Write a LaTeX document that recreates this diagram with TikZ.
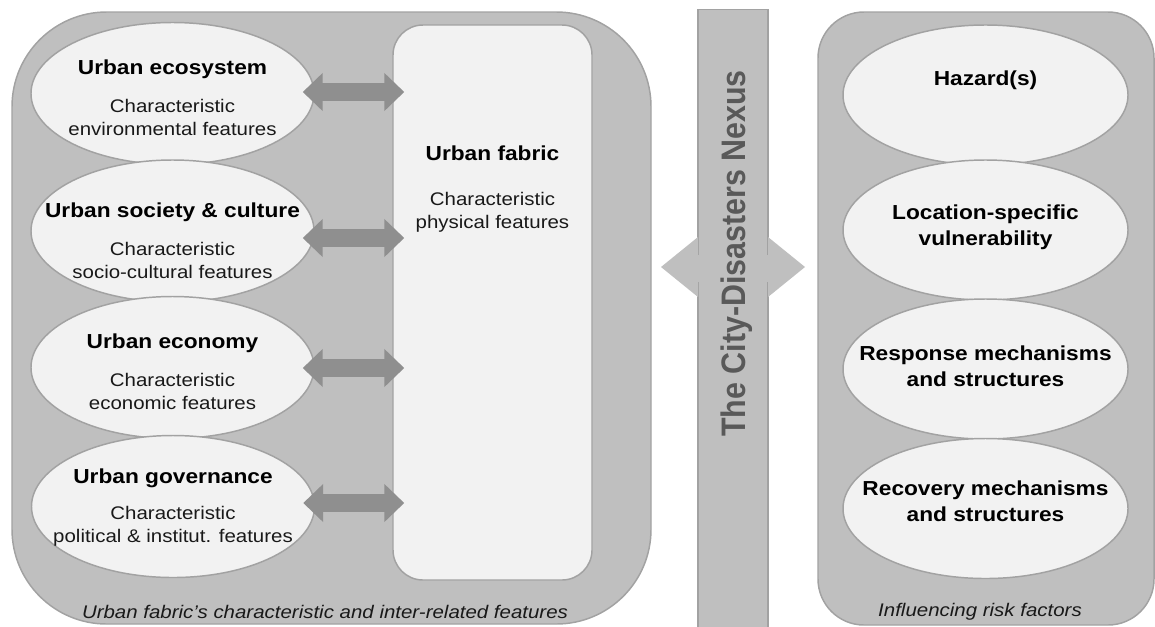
\documentclass[tikz,border=0pt]{standalone}
\usepackage{fontspec}
\setmainfont[FakeStretch=1.12]{Liberation Sans}
\newfontfamily\nexusfont[FakeStretch=0.894]{Liberation Sans}
\usetikzlibrary{shapes.geometric,arrows.meta,calc}
\definecolor{panelfill}{RGB}{191,191,191}
\definecolor{panelline}{RGB}{162,162,162}
\definecolor{lightfill}{RGB}{242,242,242}
\definecolor{arrowgray}{RGB}{143,143,143}
\definecolor{nexustext}{RGB}{89,89,89}
\definecolor{textdark}{RGB}{25,25,25}
\begin{document}
\begin{tikzpicture}[x=0.75pt,y=-0.75pt,
  panel/.style={rectangle, draw=panelline, fill=panelfill, line width=1.1pt, inner sep=0pt},
  oval/.style={ellipse, draw=panelline, fill=lightfill, line width=1.1pt, inner sep=0pt, minimum width=212.25pt, minimum height=106.5pt},
  ttl/.style={font=\fontsize{15.2}{19.5}\selectfont\bfseries, text=black, align=center, inner sep=0pt},
  sub/.style={font=\fontsize{13.7}{17.25}\selectfont, text=textdark, align=center, inner sep=0pt},
  capt/.style={font=\fontsize{13.7}{17.25}\selectfont\itshape, text=textdark, inner sep=0pt},
  bigarrow/.style={draw=arrowgray, line width=13.5pt,
    {Triangle[width=27.75pt,length=15pt]}-{Triangle[width=27.75pt,length=15pt]},
    shorten <=-9pt, shorten >=-9pt}
]
\useasboundingbox (0,0) rectangle (1155,626);

% panels
\node[panel, rounded corners=71pt, minimum width=479.25pt, minimum height=459pt] (left) at (331.5,318) {};
\node[panel, rounded corners=34.5pt, minimum width=252pt, minimum height=459.75pt] (right) at (986,318.5) {};
\node[panel, fill=lightfill, rounded corners=22.5pt, minimum width=149.25pt, minimum height=416.25pt] (fab) at (492.5,302.5) {};

% fabric text
\node[ttl] (fabt) at (492.5,153) {Urban fabric};
\node[sub] (fabs) at (492.5,212.5) {Characteristic\\physical features};

% left ellipses
\node[oval] (e1) at (172.5,93.5) {};
\node[oval] (e2) at (172.5,231) {};
\node[oval] (e3) at (172.5,367.5) {};
\node[oval] (e4) at (173,506.5) {};

\node[ttl] (t1) at ($(e1)+(0,-24)$) {Urban ecosystem};
\node[sub] (s1) at ($(e1)+(0,24)$) {Characteristic\\environmental features};
\node[ttl] (t2) at ($(e2)+(0,-19)$) {Urban society \& culture};
\node[sub] (s2) at ($(e2)+(0,29)$) {Characteristic\\socio-cultural features};
\node[ttl] (t3) at ($(e3)+(0,-24)$) {Urban economy};
\node[sub] (s3) at ($(e3)+(0,23.5)$) {Characteristic\\economic features};
\node[ttl] (t4) at ($(e4)+(0,-28)$) {Urban governance};
\node[sub] (s4) at ($(e4)+(0,19.5)$) {Characteristic\\political \& institut. features};

% right ellipses
\node[oval, minimum width=213.75pt, minimum height=105pt] (r1) at (985.5,95) {};
\node[oval, minimum width=213.75pt, minimum height=105pt] (r2) at (985.5,230) {};
\node[oval, minimum width=213.75pt, minimum height=105pt] (r3) at (985.5,369) {};
\node[oval, minimum width=213.75pt, minimum height=105pt] (r4) at (985.5,508.5) {};

\node[ttl] (rt1) at (985.5,80) {Hazard(s)};
\node[ttl] (rt2) at ($(r2)+(0,-2.5)$) {Location-specific\\vulnerability};
\node[ttl] (rt3) at ($(r3)+(0,-2.5)$) {Response mechanisms\\and structures};
\node[ttl] (rt4) at ($(r4)+(0,-7)$) {Recovery mechanisms\\and structures};

% arrows between ellipses and urban fabric
\draw[bigarrow] ($(e1.east)+(0,-1.5)$) -- ($(e1.east -| fab.west)+(0,-1.5)$);
\draw[bigarrow] ($(e2.east)+(0,7)$) -- ($(e2.east -| fab.west)+(0,7)$);
\draw[bigarrow] ($(e3.east)+(0,0.5)$) -- ($(e3.east -| fab.west)+(0,0.5)$);
\draw[bigarrow] ($(e4.east)+(0,-3.5)$) -- ($(e4.east -| fab.west)+(0,-3.5)$);

% captions
\node[capt] (lc) at (325,612) {Urban fabric’s characteristic and inter-related features};
\node[capt] (rc) at (980,612) {Influencing risk factors};

% nexus bar with double arrow
\node[panel, minimum width=52.5pt, minimum height=466pt, anchor=north] (bar) at (733,9) {};
\fill[panelfill] (698,237) -- (661,267) -- (698,297) -- cycle;
\fill[panelfill] (768,237) -- (805,267) -- (768,297) -- cycle;
\fill[panelfill] (690,255) rectangle (776,282);
\node[font=\nexusfont\fontsize{25.5}{28}\selectfont\bfseries, text=nexustext, rotate=90, anchor=base, inner sep=0pt] (nx) at (745,253.5) {The City-Disasters Nexus};
\end{tikzpicture}
\end{document}
